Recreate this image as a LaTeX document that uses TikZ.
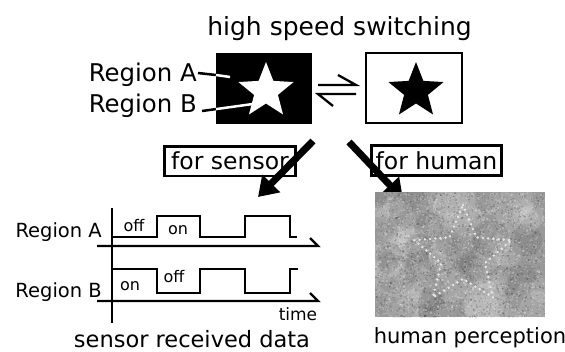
\documentclass[tikz,border=0pt]{standalone}
\usepackage{fontspec}
\setmainfont{DejaVu Sans}
\usetikzlibrary{arrows.meta}
\begin{document}
\begin{tikzpicture}[x=1pt,y=-1pt,
  lbl/.style={inner sep=0pt, font=\fontsize{#1}{#1}\selectfont},
  framebox/.style={draw, line width=2.5pt, fill=white, inner sep=0pt},
  bigarrow/.style={line width=7pt, -{Triangle[width=24pt,length=19pt]}},
  sig/.style={line width=2.4pt, line join=miter},
  axisline/.style={line width=2.4pt, line join=miter},
  tick/.style={line width=2.5pt}]
\useasboundingbox (0,0) rectangle (565,351);
\fill[white] (0,0) rectangle (565,351);

% title
\node[lbl=25, anchor=base] (title) at (339.5,35) {high speed switching};

% black box with white star
\node[fill=black, inner sep=0pt, minimum width=96pt, minimum height=71pt] (bbox) at (264,88.5) {};
\fill[white, shift={(266,91)}] (-90:29) -- (-54:12.5) -- (-18:29) -- (18:12.5) -- (54:29) -- (90:12.5) -- (126:29) -- (162:12.5) -- (198:29) -- (234:12.5) -- cycle;

% white box with black star
\node[draw, line width=2.5pt, inner sep=0pt, minimum width=96pt, minimum height=70pt] (wbox) at (414,88) {};
\fill[black, shift={(416,91)}] (-90:29) -- (-54:12.5) -- (-18:29) -- (18:12.5) -- (54:29) -- (90:12.5) -- (126:29) -- (162:12.5) -- (198:29) -- (234:12.5) -- cycle;

% region labels
\node[lbl=24.4, anchor=base east] (regA) at (197,81) {Region A};
\node[lbl=24.4, anchor=base east] (regB) at (197,112) {Region B};
\coordinate (a0) at (198,73);
\coordinate (a1) at (216,75);
\coordinate (a2) at (230,77);
\coordinate (b0) at (202,111);
\coordinate (b1) at (216,109.1);
\coordinate (b2) at (260,103);
\draw[tick] (a0) -- (a1);
\draw[tick, white] (a1) -- (a2);
\draw[tick] (b0) -- (b1);
\draw[tick, white] (b1) -- (b2);

% harpoons
\coordinate (h1) at (318,85);
\coordinate (h2) at (356,85);
\coordinate (h3) at (338,75);
\coordinate (h4) at (356,94);
\coordinate (h5) at (318,94);
\coordinate (h6) at (333,106);
\draw[line width=2.3pt, line join=miter] (h1) -- (h2) -- (h3);
\draw[line width=2.3pt, line join=miter] (h4) -- (h5) -- (h6);

% for sensor / for human boxes
\node[framebox, lbl=23.5, minimum width=131pt, minimum height=29.5pt] (fs) at (230,161) {for sensor};
\node[framebox, lbl=23.5, minimum width=130pt, minimum height=30pt] (fh) at (436.5,160.5) {for human};

% thick arrows
\coordinate (s0) at (313,141);
\coordinate (s1) at (258,197);
\coordinate (u0) at (349,142);
\coordinate (u1) at (403,199);
\draw[bigarrow] (s0) -- (s1);
\draw[bigarrow] (u0) -- (u1);

% timing diagram
\node[lbl=19.5, anchor=base east] (tA) at (102,237) {Region A};
\node[lbl=19.5, anchor=base east] (tB) at (102,297) {Region B};
\coordinate (v0) at (112,208);
\coordinate (v1) at (112,323);
\draw[axisline] (v0) -- (v1);
\draw[axisline] (97,246) -- (318,246) -- (310,238);
\draw[axisline] (97,301) -- (318,301) -- (310,293);
\draw[sig] (112,237) -- (157,237) -- (157,216) -- (200,216) -- (200,237) -- (245,237) -- (245,216) -- (290,216) -- (290,237) -- (297,237);
\draw[sig] (112,269) -- (157,269) -- (157,293) -- (200,293) -- (200,269) -- (245,269) -- (245,293) -- (290,293) -- (290,269) -- (298,269);
\node[lbl=16, anchor=base] (offA) at (134,231) {off};
\node[lbl=16, anchor=base] (onA) at (178,234) {on};
\node[lbl=16, anchor=base] (onB) at (130,290) {on};
\node[lbl=16, anchor=base] (offB) at (174,282) {off};
\node[lbl=17, anchor=base] (time) at (298,320) {time};
\node[lbl=22.5, anchor=base] (srd) at (192,347) {sensor received data};

% human perception noise image
\begin{scope}
\clip (375,192) rectangle (545,317);
\fill[black!40] (375,192) rectangle (545,317);
\pgfmathsetseed{7}
\foreach \i in {1,...,40}{
  \pgfmathsetmacro{\px}{375+170*rnd}
  \pgfmathsetmacro{\py}{192+125*rnd}
  \pgfmathsetmacro{\pr}{8+16*rnd}
  \fill[white, opacity=0.12] (\px,\py) circle[radius=\pr];
}
\foreach \i in {1,...,20}{
  \pgfmathsetmacro{\px}{375+170*rnd}
  \pgfmathsetmacro{\py}{192+125*rnd}
  \pgfmathsetmacro{\pr}{8+14*rnd}
  \fill[black, opacity=0.07] (\px,\py) circle[radius=\pr];
}
\foreach \i in {1,...,1800}{
  \pgfmathsetmacro{\px}{375+170*rnd}
  \pgfmathsetmacro{\py}{192+125*rnd}
  \fill[white, opacity=0.18] (\px,\py) rectangle ++(1.5,1.5);
}
\foreach \i in {1,...,1400}{
  \pgfmathsetmacro{\px}{375+170*rnd}
  \pgfmathsetmacro{\py}{192+125*rnd}
  \fill[black, opacity=0.12] (\px,\py) rectangle ++(1.5,1.5);
}
\draw[white!90!black, line width=2.8pt, line cap=round, dash pattern=on 0pt off 5.2pt, shift={(463,256)}]
  (-90:51) -- (-54:23) -- (-18:51) -- (18:23) -- (54:51) -- (90:23) -- (126:51) -- (162:23) -- (198:51) -- (234:23) -- cycle;
\end{scope}
\node[lbl=21, anchor=base] (hp) at (470,343) {human perception};
\end{tikzpicture}
\end{document}
